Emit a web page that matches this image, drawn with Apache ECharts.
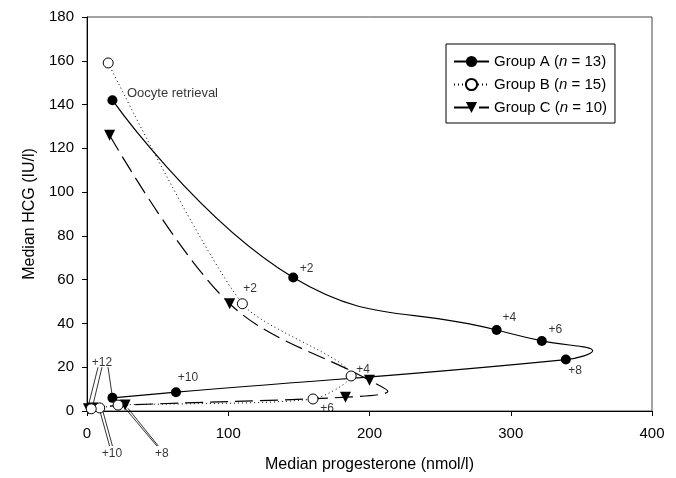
<!DOCTYPE html>
<html>
<head>
<meta charset="utf-8">
<script src="https://cdn.jsdelivr.net/npm/echarts@6/dist/echarts.min.js"></script>
<style>
  html, body { margin: 0; padding: 0; background: #fff; }
  #chart { width: 676px; height: 478px; }
</style>
</head>
<body>
<div id="chart"></div>
<script>
// ---- data ----
const days = ['Oocyte retrieval', '+2', '+4', '+6', '+8', '+10', '+12'];
const groupNames = ['Group A', 'Group B', 'Group C'];
const groupN = [13, 15, 10];

const progA = [18, 146, 290, 322, 339, 63, 18];
const hcgA  = [142, 61, 37, 32, 23.5, 8.6, 6];
const progB = [15, 110, 187, 160, 22, 9, 3];
const hcgB  = [159, 49, 16, 5.5, 2.7, 1.4, 1];
const progC = [16, 101, 200, 183, 27, 4, 1];
const hcgC  = [126, 49, 14, 6.3, 2.7, 1.4, 1];

// points read off the spline curves where they turn back (no marker)
const turnA = [358, 27.5];   // between +6 and +8
const turnC = [213, 9];      // between +4 and +6

const xTicks = [0, 100, 200, 300, 400];
const yTicks = [0, 20, 40, 60, 80, 100, 120, 140, 160, 180];

// annotation labels [progesterone, hcg, text]
const annotations = [
  [28.3, 145, 'Oocyte retrieval'],
  [155.5, 65, '+2'],
  [115.5, 56, '+2'],
  [299, 42.6, '+4'],
  [331.5, 37.2, '+6'],
  [345.6, 18.6, '+8'],
  [71.5, 15, '+10'],
  [195.5, 19, '+4'],
  [170, 0.9, '+6'],
  [10.6, 22.2, '+12'],
  [17.7, -19.5, '+10'],
  [53, -19.5, '+8']
];
// pointer lines [[x1,y1],[x2,y2]]
const pointers = [
  [[7.8, 20], [0.7, 1.8]],
  [[10.6, 20], [4.2, 2.7]],
  [[14.9, 20], [18, 6.3]],
  [[16, -16], [8.5, 1.5]],
  [[18, -16], [11, 0.5]],
  [[49.5, -16], [26, 2]],
  [[50.5, -16], [29, 1.2]]
];

function buildData(xs, ys, turn, turnAfter) {
  const out = [];
  for (let i = 0; i < xs.length; i++) {
    out.push([xs[i], ys[i]]);
    if (turn && i === turnAfter) out.push({ value: turn, symbol: 'none' });
  }
  return out;
}

const FONT = 'Liberation Sans';
const chart = echarts.init(document.getElementById('chart'));

const option = {
  backgroundColor: '#fff',
  animation: false,
  grid: { left: 87, right: 24, top: 17, bottom: 64, show: true, borderColor: '#444', borderWidth: 1 },
  xAxis: {
    type: 'value', min: 0, max: 400, interval: 100,
    name: 'Median progesterone (nmol/l)', nameLocation: 'middle', nameGap: 46,
    nameTextStyle: { fontFamily: FONT, fontSize: 16, color: '#000' },
    axisLine: { lineStyle: { color: '#000', width: 1 } },
    axisTick: { show: true, length: 5, lineStyle: { color: '#000' } },
    axisLabel: { margin: 15, fontFamily: FONT, fontSize: 15, color: '#000',
      formatter: v => xTicks.indexOf(v) >= 0 ? String(v) : '' },
    splitLine: { show: false }
  },
  yAxis: {
    type: 'value', min: 0, max: 180, interval: 20,
    name: 'Median HCG (IU/l)', nameLocation: 'middle', nameGap: 47,
    nameTextStyle: { fontFamily: FONT, fontSize: 16, color: '#000' },
    axisLine: { show: true, lineStyle: { color: '#000', width: 1 } },
    axisTick: { show: true, length: 5, lineStyle: { color: '#000' } },
    axisLabel: { margin: 13, fontFamily: FONT, fontSize: 15, color: '#000',
      formatter: v => yTicks.indexOf(v) >= 0 ? String(v) : '' },
    splitLine: { show: false }
  },
  legend: {
    data: groupNames,
    orient: 'vertical',
    left: 446, top: 44,
    borderColor: '#000', borderWidth: 1,
    padding: [10, 8, 8, 7],
    itemGap: 8, itemWidth: 35, itemHeight: 14,
    formatter: function (name) {
      const i = groupNames.indexOf(name);
      return '{t|' + name + ' (}{i|n}{t| = ' + groupN[i] + ')}';
    },
    textStyle: {
      fontFamily: FONT, fontSize: 15, color: '#000',
      rich: {
        t: { fontFamily: FONT, fontSize: 15, color: '#000' },
        i: { fontFamily: FONT, fontSize: 15, color: '#000', fontStyle: 'italic' }
      }
    }
  },
  series: [
    {
      name: 'Group A', type: 'line', smooth: 0.45,
      data: buildData(progA, hcgA, turnA, 3),
      symbol: 'circle', symbolSize: 10,
      itemStyle: { color: '#000' },
      lineStyle: { color: '#000', width: 1.2, type: 'solid' },
      z: 3
    },
    {
      name: 'Group B', type: 'line', smooth: 0.25,
      data: buildData(progB, hcgB, null, -1),
      symbol: 'circle', symbolSize: 10,
      itemStyle: { color: '#fff', borderColor: '#000', borderWidth: 1 },
      lineStyle: { color: '#000', width: 1, type: [1, 3] },
      z: 4
    },
    {
      name: 'Group C', type: 'line', smooth: 0.35,
      data: buildData(progC, hcgC, turnC, 2),
      symbol: 'triangle', symbolRotate: 180, symbolSize: 11,
      itemStyle: { color: '#000' },
      lineStyle: { color: '#000', width: 1.2, type: [18, 7] },
      z: 3
    },
    {
      name: 'pointers', type: 'lines', coordinateSystem: 'cartesian2d',
      polyline: false, silent: true, clip: false,
      data: pointers.map(p => ({ coords: p })),
      lineStyle: { color: '#000', width: 0.8, opacity: 1 },
      z: 2
    },
    {
      name: 'labels', type: 'scatter', clip: false, silent: true,
      symbolSize: 0,
      data: annotations.map(a => ({ value: [a[0], a[1]], name: a[2] })),
      label: {
        show: true, position: 'inside',
        formatter: p => p.name,
        fontFamily: FONT, fontSize: 12, color: '#000'
      },
      z: 5
    }
  ]
};
// Oocyte retrieval label is left-aligned at its anchor
option.series[4].data[0].label = { align: 'left', fontSize: 13 };

chart.setOption(option);
</script>
</body>
</html>
